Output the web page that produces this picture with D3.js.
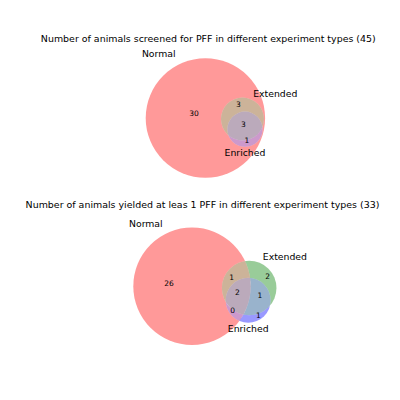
<!DOCTYPE html>
<html>
<head>
<meta charset="utf-8">
<script src="https://cdn.jsdelivr.net/npm/d3@7"></script>
<style>
  body { margin: 0; background: #fff; }
  text { font-family: "DejaVu Sans", sans-serif; fill: #000; }
</style>
</head>
<body>
<svg id="chart" width="400" height="400"></svg>
<script>
// data
const setNames = ["Normal", "Extended", "Enriched"];
const regionKeys = ["100", "010", "110", "001", "101", "011", "111"];
const screenedCounts = [30, 0, 3, 0, 1, 0, 3];
const yieldedCounts = [26, 2, 1, 1, 0, 1, 2];
const titles = [
    "Number of animals screened for PFF in different experiment types (45)",
    "Number of animals yielded at leas 1 PFF in different experiment types (33)"
];
const setColors = [[1, 0, 0], [0, 0.5, 0], [0, 0, 1]];

// layout, in units of the Normal radius, centred on the Normal circle
const panels = [
    {
        counts: screenedCounts, title: titles[0],
        px: [205.4, 118], R: 59.7, titleX: 208.3, titleY: 42,
        circles: [[0, 0, 1], [0.621, 0.017, 0.360], [0.663, 0.188, 0.295]],
        labelPos: {"100": [-0.191, -0.079], "110": [0.554, -0.218], "111": [0.638, 0.112], "101": [0.697, 0.377]}
    },
    {
        counts: yieldedCounts, title: titles[1],
        px: [192, 286.3], R: 58.7, titleX: 202.5, titleY: 208,
        circles: [[0, 0, 1], [0.974, 0.029, 0.465], [0.957, 0.239, 0.383]],
        labelPos: {"100": [-0.392, -0.051], "010": [1.290, -0.164], "110": [0.676, -0.153],
                   "001": [1.129, 0.501], "101": [0.693, 0.404], "011": [1.158, 0.160], "111": [0.775, 0.102]}
    }
];

function regionColor(key) {
    const on = setColors.filter((c, i) => key[i] === "1");
    const mix = [0, 1, 2].map(k => d3.mean(on, c => c[k]));
    return d3.rgb(mix[0] * 255, mix[1] * 255, mix[2] * 255).toString();
}

const svg = d3.select("#chart");
const defs = svg.append("defs");

panels.forEach((p, pi) => {
    const x = d3.scaleLinear().domain([-1, 1]).range([p.px[0] - p.R, p.px[0] + p.R]);
    const y = d3.scaleLinear().domain([-1, 1]).range([p.px[1] - p.R, p.px[1] + p.R]);
    const rad = v => x(v) - x(0);

    const circles = p.circles.map(c => ({cx: x(c[0]), cy: y(c[1]), r: rad(c[2])}));

    circles.forEach((c, i) => {
        defs.append("clipPath").attr("id", `p${pi}c${i}`)
            .append("circle").attr("cx", c.cx).attr("cy", c.cy).attr("r", c.r);
    });

    const panel = svg.append("g");

    regionKeys.forEach(key => {
        const maskId = `p${pi}m${key}`;
        const mask = defs.append("mask").attr("id", maskId)
            .attr("maskUnits", "userSpaceOnUse")
            .attr("x", 0).attr("y", 0).attr("width", 400).attr("height", 400);
        mask.append("rect").attr("width", 400).attr("height", 400).attr("fill", "#fff");
        circles.forEach((c, i) => {
            if (key[i] === "0")
                mask.append("circle").attr("cx", c.cx).attr("cy", c.cy).attr("r", c.r).attr("fill", "#000");
        });
        let g = panel;
        circles.forEach((c, i) => {
            if (key[i] === "1") g = g.append("g").attr("clip-path", `url(#p${pi}c${i})`);
        });
        g.append("rect")
            .attr("width", 400).attr("height", 400)
            .attr("fill", regionColor(key))
            .attr("fill-opacity", 0.4)
            .attr("mask", `url(#${maskId})`);
    });

    // subset numbers
    regionKeys.forEach((key, k) => {
        const pos = p.labelPos[key];
        if (!pos) return;
        panel.append("text")
            .attr("x", x(pos[0])).attr("y", y(pos[1]))
            .attr("text-anchor", "middle")
            .attr("dominant-baseline", "central")
            .style("font-size", "7.5px")
            .text(p.counts[k]);
    });

    // set names
    const [a, b, c] = circles;
    panel.append("text").attr("x", a.cx - a.r / 2).attr("y", a.cy - a.r - 1)
        .attr("text-anchor", "end").style("font-size", "9.3px").text(setNames[0]);
    panel.append("text").attr("x", b.cx + b.r / 2).attr("y", b.cy - b.r - 1)
        .attr("text-anchor", "start").style("font-size", "9.3px").text(setNames[1]);
    panel.append("text").attr("x", c.cx).attr("y", c.cy + c.r * 1.1 + 7)
        .attr("text-anchor", "middle").style("font-size", "9.3px").text(setNames[2]);

    // title
    svg.append("text").attr("x", p.titleX).attr("y", p.titleY)
        .attr("text-anchor", "middle").style("font-size", "9.45px").text(p.title);
});
</script>
</body>
</html>
